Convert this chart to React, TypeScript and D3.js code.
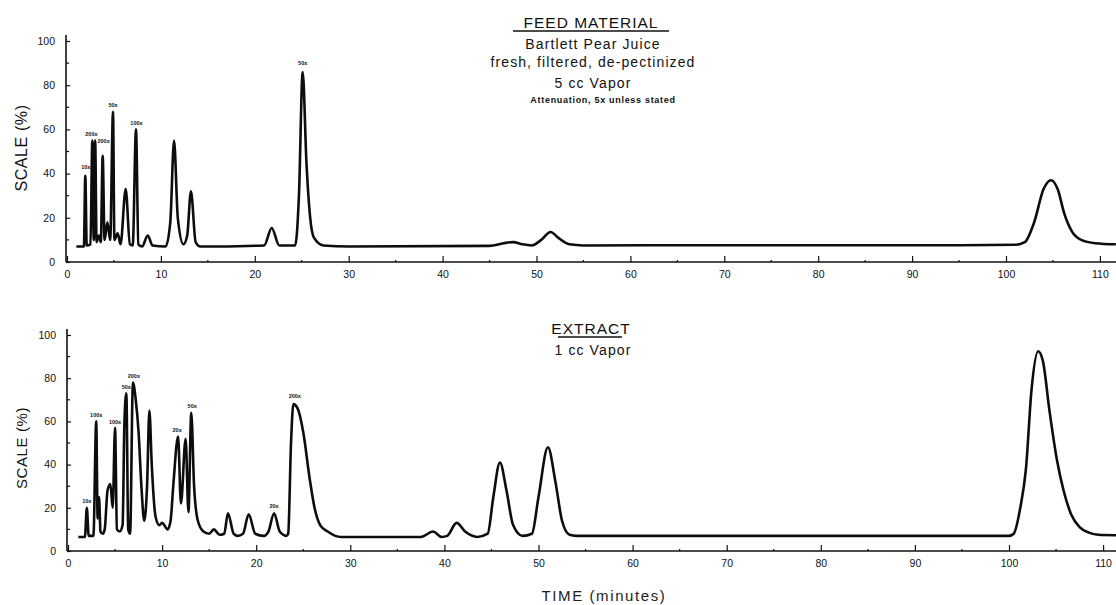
import React, { useEffect, useRef } from 'react';
import * as d3 from 'd3';

// chromatogram readings, [time (min), scale (%)]
const feedTrace: [number, number][] = [
  [1.0, 7], [1.8, 7], [1.95, 39], [2.1, 7.5], [2.5, 8], [2.7, 55], [2.85, 10], [3.0, 55], [3.15, 9],
  [3.4, 12], [3.6, 9], [3.8, 48], [4.0, 10], [4.3, 18], [4.6, 10], [4.9, 68], [5.05, 10], [5.4, 13],
  [5.7, 8], [6.25, 33], [6.7, 8], [7.0, 7.5], [7.35, 60], [7.6, 8], [8.0, 7], [8.6, 12], [9.1, 7.5],
  [10.5, 7], [11.0, 18], [11.4, 55], [11.8, 20], [12.4, 8], [12.8, 12], [13.2, 32], [13.7, 9],
  [14.2, 7], [21.0, 7.5], [21.8, 15.4], [22.6, 7.5], [24.3, 7.5], [24.7, 30], [25.1, 86], [25.5, 45],
  [25.9, 20], [26.3, 11], [27.3, 7.5], [30, 7], [45, 7.3], [46.5, 8.5], [47.5, 9], [48.5, 8],
  [49.5, 7.5], [50.5, 10], [51.5, 13.6], [52.3, 11], [53.5, 8], [55, 7.5], [68, 7.6], [80, 7.6],
  [95, 7.6], [101, 7.8], [102, 9], [103, 18], [104, 33], [104.8, 37], [105.5, 33], [106.2, 22],
  [107, 14], [108, 10], [109.5, 8.5], [111.7, 8],
];

const extractTrace: [number, number][] = [
  [1.1, 6.5], [1.8, 6.5], [2.0, 20], [2.2, 7], [2.7, 7], [3.0, 60], [3.15, 15], [3.3, 25], [3.45, 9],
  [3.7, 8], [3.9, 10], [4.2, 28], [4.5, 31], [4.75, 20], [5.0, 57], [5.2, 10], [5.5, 9], [5.8, 12],
  [6.0, 60], [6.2, 73], [6.4, 10], [6.6, 8], [6.9, 78], [7.2, 70], [7.5, 55], [7.8, 30], [8.1, 14],
  [8.4, 30], [8.65, 65], [8.9, 40], [9.3, 16], [9.7, 12], [10.0, 13], [10.6, 10], [10.9, 14],
  [11.2, 31], [11.7, 53], [12.0, 22], [12.5, 52], [12.8, 18], [13.1, 64], [13.4, 30], [13.8, 14],
  [14.4, 9], [15.0, 8], [15.5, 10], [16.1, 7.5], [16.6, 8], [17.0, 17.5], [17.6, 8], [18.0, 7],
  [18.6, 8], [19.2, 17], [19.9, 8], [20.8, 7], [21.3, 9], [21.9, 17.5], [22.5, 9], [23.2, 7],
  [23.4, 8], [23.7, 50], [23.95, 68], [24.4, 66], [25.0, 55], [25.7, 33], [26.2, 20], [26.8, 12],
  [27.6, 9], [28.4, 7], [29, 6.5], [37.5, 6.5], [38.8, 9], [39.7, 6.5], [40.3, 7], [41.3, 13],
  [42.2, 9], [43.5, 6.5], [44.6, 8], [45.2, 25], [45.9, 41], [46.6, 28], [47.3, 12], [48.3, 7],
  [49.3, 8], [50.0, 25], [51.0, 48], [51.8, 32], [52.5, 14], [53.3, 7.5], [54, 7], [100, 7],
  [100.5, 8], [101.2, 20], [101.8, 38], [102.4, 75], [103.1, 92.5], [103.6, 88], [104.3, 65],
  [105.1, 42], [105.8, 28], [106.6, 17], [107.5, 11], [108.5, 8.5], [109.5, 7.5], [111.5, 7.3],
];

// attenuation marks over peaks
const feedMarks: [number, number, string][] = [
  [2.0, 42, '10x'], [2.6, 57, '200x'], [3.9, 54, '200x'], [4.9, 70, '50x'], [7.4, 62, '100x'], [25.1, 89, '50x'],
];
const extractMarks: [number, number, string][] = [
  [2.0, 22, '10x'], [3.0, 62, '100x'], [5.0, 59, '100x'], [6.2, 75, '50x'], [7.0, 80, '200x'],
  [11.6, 55, '20x'], [13.2, 66, '50x'], [21.9, 20, '20x'], [24.1, 71, '200x'],
];

const xTicks = [0, 10, 20, 30, 40, 50, 60, 70, 80, 90, 100, 110];
const xMinor = [5, 15, 25, 35, 45, 55, 65, 75, 85, 95, 105];
const yTicks = [0, 20, 40, 60, 80, 100];
const yMinor = [10, 30, 50, 70, 90];

const feedTitle = 'FEED MATERIAL';
const feedLines = ['Bartlett Pear Juice', 'fresh, filtered, de-pectinized', '5 cc Vapor'];
const feedNote = 'Attenuation, 5x unless stated';
const extractTitle = 'EXTRACT';
const extractLines = ['1 cc Vapor'];

const W = 1116, H = 605;
const font = 'Liberation Sans, Arial, sans-serif';

function drawPanel(svg: any, trace: [number, number][], marks: [number, number, string][],
  x0: number, x100: number, y0: number, y100: number, labelY: number, labelSize: number) {
  const x = d3.scaleLinear().domain([0, 100]).range([x0, x100]);
  const y = d3.scaleLinear().domain([0, 100]).range([y0, y100]);
  const g = svg.append('g');

  // axis lines
  g.append('line').attr('x1', x0 - 1).attr('x2', W).attr('y1', y0).attr('y2', y0)
    .attr('stroke', '#111').attr('stroke-width', 1.6);
  g.append('line').attr('x1', x0 - 1).attr('x2', x0 - 1).attr('y1', y0).attr('y2', y100 - 6)
    .attr('stroke', '#111').attr('stroke-width', 1.6);

  const xa = g.append('g').attr('transform', 'translate(0,' + y0 + ')')
    .call(d3.axisBottom(x).tickValues(xTicks).tickSizeInner(-6).tickSizeOuter(0).tickPadding(9)
      .tickFormat((d: any) => String(d)));
  xa.select('.domain').remove();
  xa.selectAll('text').attr('font-family', font).attr('font-size', 10.5).attr('fill', '#111');
  xa.selectAll('line').attr('stroke', '#111').attr('stroke-width', 1.2);
  g.selectAll('.xminor').data(xMinor).enter().append('line')
    .attr('x1', (d: number) => x(d)).attr('x2', (d: number) => x(d))
    .attr('y1', y0).attr('y2', y0 - 2).attr('stroke', '#111').attr('stroke-width', 1.2);

  const ya = g.append('g').attr('transform', 'translate(' + (x0 - 1) + ',0)')
    .call(d3.axisLeft(y).tickValues(yTicks).tickSizeInner(-4).tickSizeOuter(0).tickPadding(11));
  ya.select('.domain').remove();
  ya.selectAll('text').attr('font-family', font).attr('font-size', 10.5).attr('fill', '#111');
  ya.selectAll('line').attr('stroke', '#111').attr('stroke-width', 1.2);
  g.selectAll('.yminor').data(yMinor).enter().append('line')
    .attr('x1', x0 - 1).attr('x2', x0 + 2)
    .attr('y1', (d: number) => y(d)).attr('y2', (d: number) => y(d))
    .attr('stroke', '#111').attr('stroke-width', 1.2);

  g.append('text').attr('transform', 'translate(27,' + labelY + ')rotate(-90)')
    .attr('text-anchor', 'middle').attr('font-family', font).attr('font-size', labelSize)
    .attr('letter-spacing', 0.6).attr('fill', '#111').text('SCALE (%)');

  const line = d3.line<[number, number]>().x(d => x(d[0])).y(d => y(d[1])).curve(d3.curveMonotoneX);
  g.append('path').datum(trace).attr('d', line).attr('fill', 'none')
    .attr('stroke', '#0d0d0d').attr('stroke-width', 2.6).attr('stroke-linejoin', 'round');

  g.selectAll('.mark').data(marks).enter().append('text')
    .attr('x', (d: any) => x(d[0])).attr('y', (d: any) => y(d[1]))
    .attr('text-anchor', 'middle').attr('font-family', font).attr('font-weight', 'bold')
    .attr('font-size', 5.5).attr('fill', '#111').text((d: any) => d[2]);
}

function drawTitle(svg: any, title: string, lines: string[], top: number, lineYs: number[], ulLeft: number, ulRight: number) {
  const cx = 591;
  svg.append('text').attr('x', cx).attr('y', top).attr('text-anchor', 'middle')
    .attr('font-family', font).attr('font-size', 15.5).attr('letter-spacing', 1).attr('fill', '#111').text(title);
  svg.append('line').attr('x1', ulLeft).attr('x2', ulRight).attr('y1', top + 3).attr('y2', top + 3)
    .attr('stroke', '#111').attr('stroke-width', 1.3);
  lines.forEach((t, i) => {
    svg.append('text').attr('x', cx + 2).attr('y', lineYs[i]).attr('text-anchor', 'middle')
      .attr('font-family', font).attr('font-size', 14).attr('letter-spacing', 1.1).attr('fill', '#111').text(t);
  });
}

export default function App() {
  const ref = useRef<SVGSVGElement>(null);

  useEffect(() => {
    const svg = d3.select(ref.current);
    svg.selectAll('*').remove();
    svg.append('rect').attr('width', W).attr('height', H).attr('fill', '#fff');

    drawPanel(svg, feedTrace, feedMarks, 67, 1006, 262, 41, 148, 16);
    drawPanel(svg, extractTrace, extractMarks, 68, 1009, 551, 335, 448, 15);

    drawTitle(svg, feedTitle, feedLines, 28, [49, 67, 88], 513, 669);
    svg.append('text').attr('x', 603).attr('y', 103).attr('text-anchor', 'middle')
      .attr('font-family', font).attr('font-weight', 'bold').attr('font-size', 9).attr('letter-spacing', 0.7)
      .attr('fill', '#111').text(feedNote);
    drawTitle(svg, extractTitle, extractLines, 334, [355], 558, 622);

    svg.append('text').attr('x', 604).attr('y', 601).attr('text-anchor', 'middle')
      .attr('font-family', font).attr('font-size', 15).attr('letter-spacing', 1.6).attr('fill', '#222')
      .text('TIME  (minutes)');
  }, []);

  return (
    <svg ref={ref} width={W} height={H} style={{ position: 'absolute', left: 0, top: 0 }} />
  );
}
